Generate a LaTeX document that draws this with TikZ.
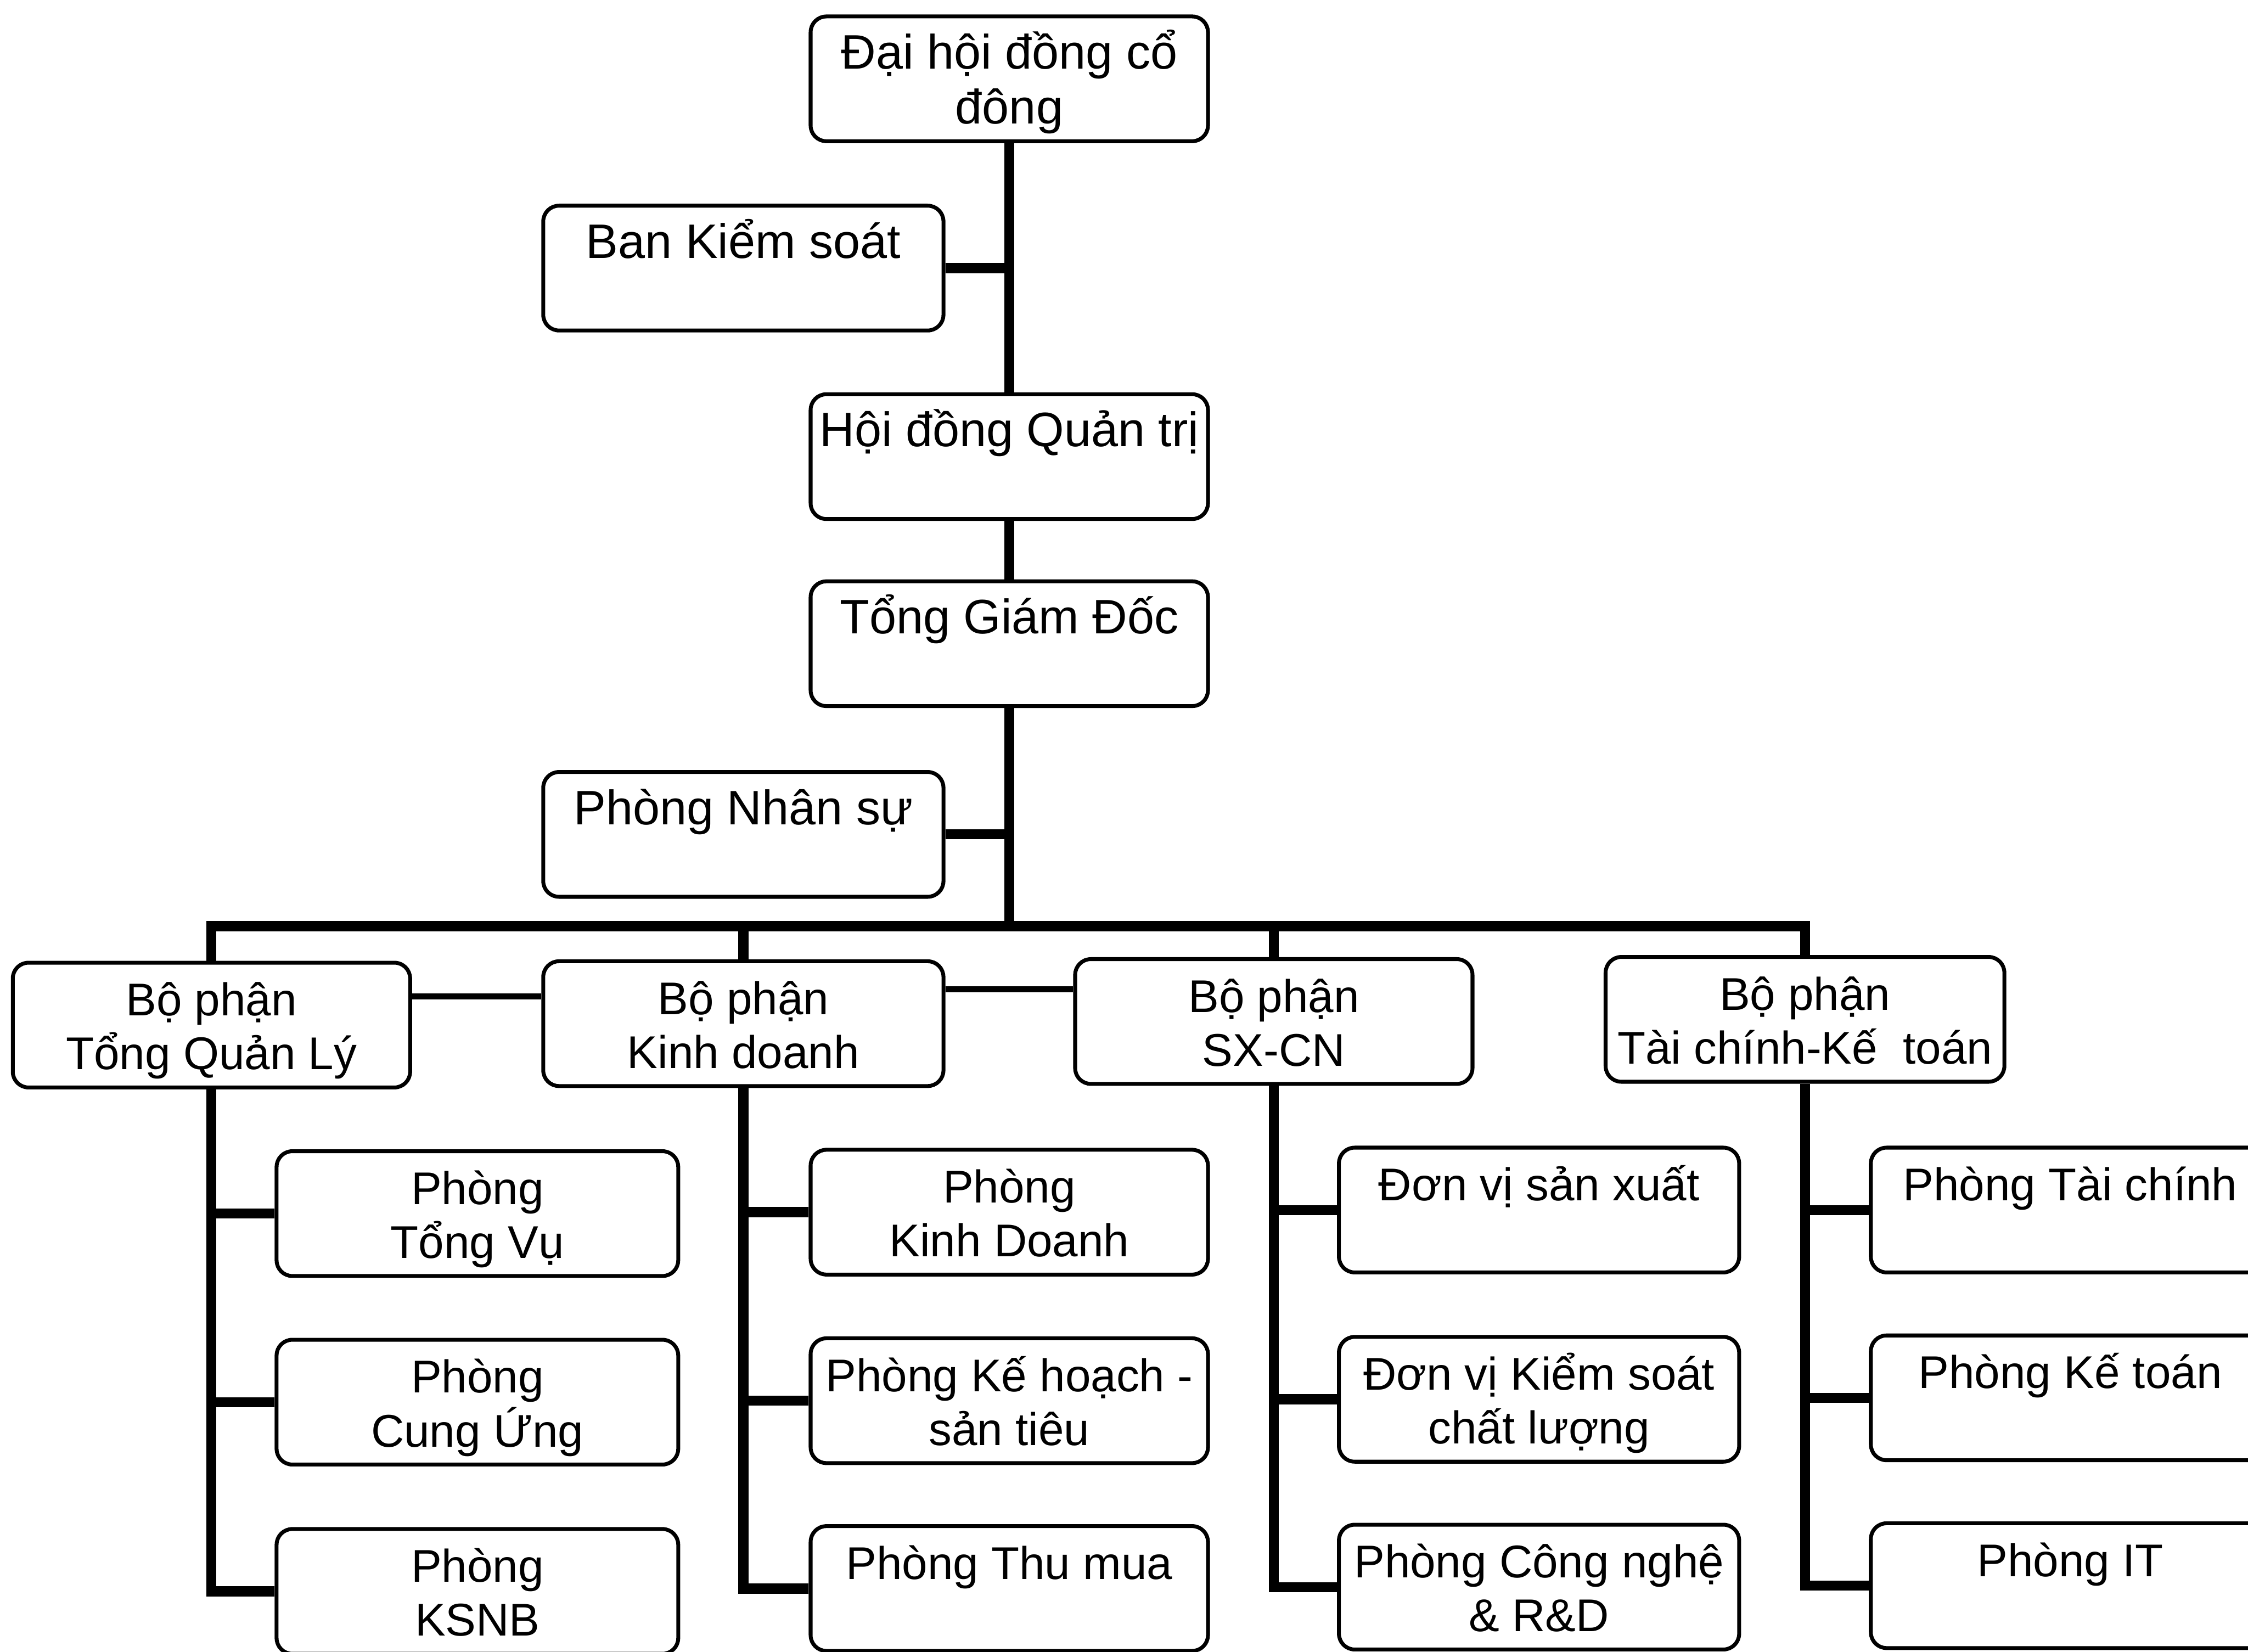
\documentclass[tikz,border=0pt]{standalone}
\usepackage{fontspec}
\setmainfont{Liberation Sans}
\usetikzlibrary{calc}
\newcommand\tstrut{\rule{0pt}{10.2pt}}
\newcommand\smallboxfont{\fontsize{9.1pt}{10.7pt}\selectfont\lineskiplimit=-20pt\relax\lineskip=0pt\relax}
\newcommand\bigboxfont{\fontsize{9.6pt}{10.9pt}\selectfont\lineskiplimit=-20pt\relax\lineskip=0pt\relax}
\begin{document}
\begin{tikzpicture}[x=0.01cm,y=-0.01cm,
  box/.style={draw, line width=0.027cm, rounded corners=0.11cm, minimum width=2.77cm,
    minimum height=0.87cm, inner sep=0pt, align=center, font=\smallboxfont},
  bigbox/.style={box, font=\bigboxfont},
  conn/.style={line width=0.07cm},
  link/.style={line width=0.04cm}]
\useasboundingbox (0,0) rectangle (1568,1152);
\clip (0,0) rectangle (1568,1152);

% top levels
\node[bigbox] (dh) at (704,55) {\tstrut Đại hội đồng cổ\\\strut đông};
\node[bigbox, minimum width=2.79cm] (bks) at (518.5,187) {\tstrut Ban Kiểm soát\\\strut};
\node[bigbox] (hd) at (704,318.5) {\tstrut Hội đồng Quản trị\\\strut};
\node[bigbox] (tgd) at (704,449) {\tstrut Tổng Giám Đốc\\\strut};
\node[bigbox, minimum width=2.79cm] (pns) at (518.5,582) {\tstrut Phòng Nhân sự\\\strut};

% divisions
\node[box] (bp1) at (147.5,715) {\tstrut Bộ phận\\\strut Tổng Quản Lý};
\node[box, minimum width=2.79cm] (bp2) at (518.5,714) {\tstrut Bộ phận\\\strut Kinh doanh};
\node[box] (bp3) at (888.5,712.5) {\tstrut Bộ phận\\\strut SX-CN};
\node[box, minimum width=2.78cm] (bp4) at (1259,711) {\tstrut Bộ phận\\\strut Tài chính-Kế~~toán};

% departments
\node[box, minimum width=2.80cm] (a1) at (333,846.5) {\tstrut Phòng\\\strut Tổng Vụ};
\node[box, minimum width=2.80cm] (a2) at (333,978) {\tstrut Phòng\\\strut Cung Ứng};
\node[box, minimum width=2.80cm] (a3) at (333,1110) {\tstrut Phòng\\\strut KSNB};

\node[box] (b1) at (704,845.5) {\tstrut Phòng\\\strut Kinh Doanh};
\node[box] (b2) at (704,977) {\tstrut Phòng Kế hoạch -\\\strut sản tiêu};
\node[box] (b3) at (704,1108) {\tstrut Phòng Thu mua\\\strut};

\node[box, minimum width=2.79cm] (c1) at (1073.5,844) {\tstrut Đơn vị sản xuất\\\strut};
\node[box, minimum width=2.79cm] (c2) at (1073.5,976) {\tstrut Đơn vị Kiểm soát\\\strut chất lượng};
\node[box, minimum width=2.79cm] (c3) at (1073.5,1107) {\tstrut Phòng Công nghệ\\\strut \& R\&D};

\node[box, minimum width=2.78cm] (d1) at (1444,844) {\tstrut Phòng Tài chính\\\strut};
\node[box, minimum width=2.78cm] (d2) at (1444,975) {\tstrut Phòng Kế toán\\\strut};
\node[box, minimum width=2.78cm] (d3) at (1444,1106) {\tstrut Phòng IT\\\strut};

% main spine
\coordinate (bus) at (704,646);
\draw[conn] (dh) -- (hd);
\draw[conn] (hd) -- (tgd);
\draw[conn] (tgd) -- (bus);
\draw[conn] (bks.east) -- (bks.east -| dh.south);
\draw[conn] (pns.east) -- (pns.east -| tgd.south);

% bus
\draw[conn] (bp1.north) -- (bp1.north |- bus) -- (bp4.north |- bus) -- (bp4.north);
\draw[conn] (bp2.north |- bus) -- (bp2.north);
\draw[conn] (bp3.north |- bus) -- (bp3.north);

% links between divisions
\draw[link] (bp1.east |- 0,695) -- (bp2.west |- 0,695);
\draw[link] (bp2.east |- 0,690) -- (bp3.west |- 0,690);

% sub-trees
\draw[conn] (bp1.south) -- (bp1.south |- a3.west) -- (a3.west);
\draw[conn] (a1.west -| bp1.south) -- (a1.west);
\draw[conn] (a2.west -| bp1.south) -- (a2.west);

\draw[conn] (bp2.south) -- (bp2.south |- b3.west) -- (b3.west);
\draw[conn] (b1.west -| bp2.south) -- (b1.west);
\draw[conn] (b2.west -| bp2.south) -- (b2.west);

\draw[conn] (bp3.south) -- (bp3.south |- c3.west) -- (c3.west);
\draw[conn] (c1.west -| bp3.south) -- (c1.west);
\draw[conn] (c2.west -| bp3.south) -- (c2.west);

\draw[conn] (bp4.south) -- (bp4.south |- d3.west) -- (d3.west);
\draw[conn] (d1.west -| bp4.south) -- (d1.west);
\draw[conn] (d2.west -| bp4.south) -- (d2.west);
\end{tikzpicture}
\end{document}
